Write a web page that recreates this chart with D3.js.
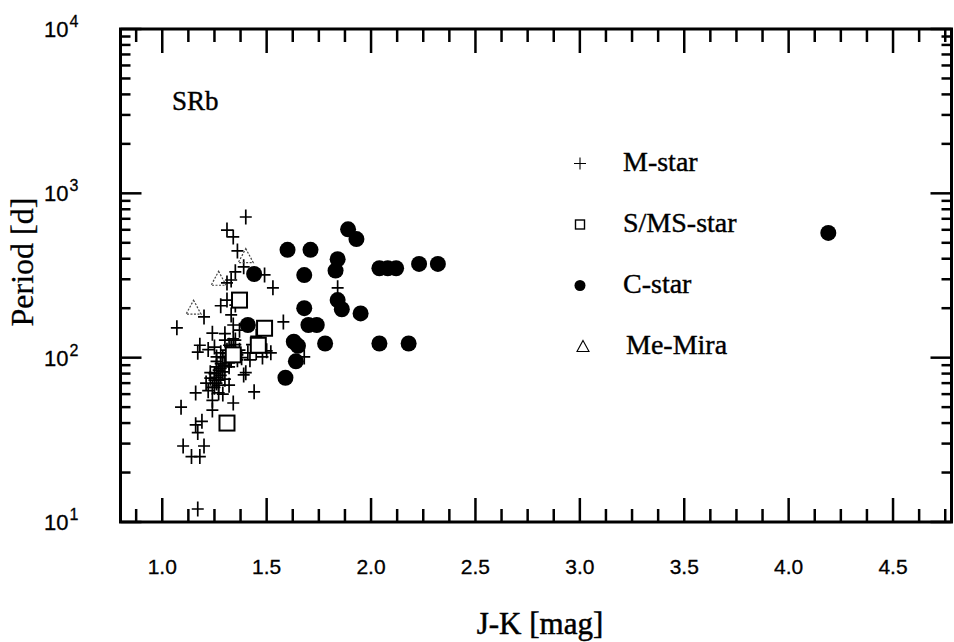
<!DOCTYPE html>
<html>
<head>
<meta charset="utf-8">
<script src="https://cdn.jsdelivr.net/npm/d3@7"></script>
<style>
  body { margin: 0; background: #fff; }
  svg { display: block; }
</style>
</head>
<body>
<div id="plot"></div>
<script>
// J-K colour (mag) and period (days)
const mStarJK = [1.40, 1.31, 1.34, 1.36, 1.39, 1.35, 1.49, 1.53, 1.33, 1.31, 1.31, 1.28, 1.20, 1.07, 1.18, 1.17,
  1.24, 1.25, 1.28, 1.34, 1.35, 1.37, 1.41, 1.45, 1.48, 1.52, 1.32, 1.26, 1.25, 1.24, 1.32, 1.39, 1.44, 1.16,
  1.09, 1.24, 1.27, 1.34, 1.24, 1.19, 1.16, 1.17, 1.20, 1.10, 1.14, 1.18, 1.17, 1.26, 1.23, 1.21, 1.40, 1.84,
  1.68, 1.58, 1.30, 1.32, 1.36, 1.29, 1.27, 1.31, 1.37, 1.42, 1.33, 1.35, 1.50, 1.29, 1.30, 1.28, 1.33, 1.38,
  1.26, 1.30, 1.43, 1.22, 1.45, 1.25, 1.27, 1.29, 1.22, 1.23,
  1.33, 1.34, 1.32, 1.35, 1.33, 1.31, 1.34, 1.28, 1.26, 1.27, 1.25, 1.30, 1.36, 1.32, 1.28, 1.26];
const mStarP = [718, 598, 543, 446, 357, 333, 319, 266, 297, 285, 224, 207, 177, 152, 119, 108,
  141, 116, 107, 158, 128, 111, 107, 107, 101, 107, 93, 88, 73, 66, 68, 78.5, 62, 61,
  50, 55, 61, 53, 48, 41, 39, 35, 29, 29, 25, 25, 12, 101, 81, 70, 81, 266,
  101, 165, 128, 119, 97, 82, 73, 111, 147, 97, 182, 209, 110, 100, 90, 78, 103, 100,
  95, 140, 120, 112, 135, 80, 68, 60, 63, 75,
  115, 108, 102, 120, 96, 106, 130, 86, 76, 84, 66, 74, 104, 88, 92, 70];

const sStarJK = [1.37, 1.49, 1.46, 1.31, 1.34];
const sStarP = [224, 151, 119, 40, 104];

const cStarJK = [1.89, 1.93, 1.60, 1.71, 1.68, 1.84, 1.83, 2.04, 2.08, 2.12, 2.23, 2.32, 1.44, 1.68,
  1.84, 1.86, 1.95, 1.70, 1.74, 1.41, 1.63, 1.65, 1.78, 2.04, 2.18, 1.64, 1.59, 4.19];
const cStarP = [604, 527, 453, 453, 318, 397, 339, 350, 350, 350, 372, 372, 323, 200,
  224, 197, 186, 158, 158, 158, 125, 118, 122, 122, 122, 95, 75.5, 574];

const miraJK = [1.40, 1.27, 1.15];
const miraP = [412, 300, 200];

const xMajorTicks = [1.0, 1.5, 2.0, 2.5, 3.0, 3.5, 4.0, 4.5];
const yDecades = [1, 2, 3, 4];
const legendNames = ['M-star', 'S/MS-star', 'C-star', 'Me-Mira'];

let width = 954, height = 642;
let margin = { top: 29, right: 2.5, bottom: 120, left: 120.5 };

let svg = d3.select('#plot')
  .append('svg')
    .attr('width', width)
    .attr('height', height)
    .style('background', '#FFFFFF');

let xScale = d3.scaleLinear()
  .domain([0.8, 4.78])
  .range([margin.left, width - margin.right]);

let yScale = d3.scaleLog()
  .domain([10, 10000])
  .range([height - margin.bottom, margin.top]);

const x0 = margin.left, x1 = width - margin.right;
const y0 = height - margin.bottom, y1 = margin.top;

// minor and major tick values
let xMinor = d3.range(0.875, 4.78, 0.125).filter(v => Math.abs(v * 2 - Math.round(v * 2)) > 1e-6);
let yMinor = [];
yDecades.slice(0, 3).forEach(e => {
  for (let k = 2; k <= 9; k++) yMinor.push(k * Math.pow(10, e));
});

let ticks = svg.append('g')
  .attr('stroke', '#000')
  .attr('stroke-width', 2.5);

// bottom and top ticks (pointing inward)
xMinor.forEach(v => {
  ticks.append('line').attr('x1', xScale(v)).attr('x2', xScale(v)).attr('y1', y0).attr('y2', y0 - 13);
  ticks.append('line').attr('x1', xScale(v)).attr('x2', xScale(v)).attr('y1', y1).attr('y2', y1 + 13);
});
xMajorTicks.forEach(v => {
  ticks.append('line').attr('x1', xScale(v)).attr('x2', xScale(v)).attr('y1', y0).attr('y2', y0 - 24);
  ticks.append('line').attr('x1', xScale(v)).attr('x2', xScale(v)).attr('y1', y1).attr('y2', y1 + 24);
});

// left and right ticks
yMinor.forEach(v => {
  ticks.append('line').attr('x1', x0).attr('x2', x0 + 10).attr('y1', yScale(v)).attr('y2', yScale(v));
  ticks.append('line').attr('x1', x1).attr('x2', x1 - 10).attr('y1', yScale(v)).attr('y2', yScale(v));
});
yDecades.forEach(e => {
  let v = Math.pow(10, e);
  ticks.append('line').attr('x1', x0).attr('x2', x0 + 21).attr('y1', yScale(v)).attr('y2', yScale(v));
  ticks.append('line').attr('x1', x1).attr('x2', x1 - 21).attr('y1', yScale(v)).attr('y2', yScale(v));
});

// frame
svg.append('rect')
  .attr('x', x0).attr('y', y1)
  .attr('width', x1 - x0).attr('height', y0 - y1)
  .attr('fill', 'none')
  .attr('stroke', '#000')
  .attr('stroke-width', 3);

const sans = 'Liberation Sans, Arial, sans-serif';
const serif = 'Liberation Serif, Times New Roman, serif';

// x tick labels
svg.selectAll('.xlab')
  .data(xMajorTicks)
  .enter()
  .append('text')
    .attr('x', d => xScale(d))
    .attr('y', 574)
    .attr('text-anchor', 'middle')
    .attr('font-family', sans)
    .attr('font-size', '21px')
    .attr('stroke', '#000')
    .attr('stroke-width', 0.3)
    .text(d => d.toFixed(1));

// y tick labels 10^n
yDecades.forEach(e => {
  let t = svg.append('text')
    .attr('x', 44)
    .attr('y', yScale(Math.pow(10, e)) + 8)
    .attr('font-family', sans)
    .attr('font-size', '22px')
    .attr('stroke', '#000')
    .attr('stroke-width', 0.3);
  t.append('tspan').text('10');
  t.append('tspan').attr('dx', 1).attr('dy', -10).attr('font-size', '16px').text(e);
});

// axis titles
svg.append('text')
  .attr('x', 540)
  .attr('y', 634)
  .attr('text-anchor', 'middle')
  .attr('font-family', serif)
  .attr('font-size', '31px')
  .attr('stroke', '#000')
  .attr('stroke-width', 0.5)
  .text('J-K [mag]');

svg.append('text')
  .attr('transform', 'translate(33,262) rotate(-90)')
  .attr('text-anchor', 'middle')
  .attr('font-family', serif)
  .attr('font-size', '32px')
  .attr('stroke', '#000')
  .attr('stroke-width', 0.3)
  .text('Period [d]');

svg.append('text')
  .attr('x', 172)
  .attr('y', 110)
  .attr('font-family', serif)
  .attr('font-size', '27px')
  .attr('stroke', '#000')
  .attr('stroke-width', 0.4)
  .text('SRb');

// data marks
let mData = mStarJK.map((d, i) => ({ jk: d, p: mStarP[i] }));
let sData = sStarJK.map((d, i) => ({ jk: d, p: sStarP[i] }));
let cData = cStarJK.map((d, i) => ({ jk: d, p: cStarP[i] }));
let eData = miraJK.map((d, i) => ({ jk: d, p: miraP[i] }));

function crossPath(x, y, w, h) {
  return `M${x - w},${y}H${x + w}M${x},${y - h}V${y + h}`;
}

svg.append('g')
  .selectAll('path')
  .data(mData)
  .enter()
  .append('path')
    .attr('d', d => crossPath(xScale(d.jk), yScale(d.p), 6, 7.5))
    .attr('stroke', '#000')
    .attr('stroke-width', 1.7)
    .attr('fill', 'none');

svg.append('g')
  .selectAll('path')
  .data(eData)
  .enter()
  .append('path')
    .attr('transform', d => `translate(${xScale(d.jk)},${yScale(d.p)})`)
    .attr('d', 'M0,-8L7.5,6L-7.5,6Z')
    .attr('fill', 'none')
    .attr('stroke', '#444')
    .attr('stroke-width', 1.2)
    .attr('stroke-dasharray', '2,1.5');

svg.append('g')
  .selectAll('rect')
  .data(sData)
  .enter()
  .append('rect')
    .attr('x', d => xScale(d.jk) - 7.5)
    .attr('y', d => yScale(d.p) - 7.5)
    .attr('width', 15)
    .attr('height', 15)
    .attr('fill', '#fff')
    .attr('stroke', '#000')
    .attr('stroke-width', 2);

svg.append('g')
  .selectAll('circle')
  .data(cData)
  .enter()
  .append('circle')
    .attr('cx', d => xScale(d.jk))
    .attr('cy', d => yScale(d.p))
    .attr('r', 8)
    .attr('fill', '#000');

// legend
let legend = svg.append('g');
let legendY = d3.scaleBand().domain(legendNames).range([140, 384]);
let symX = 580;

legendNames.forEach((name, i) => {
  let cy = legendY(name) + legendY.bandwidth() / 2 - 7;
  if (i === 0) {
    legend.append('path').attr('d', crossPath(symX, cy, 6, 6)).attr('stroke', '#000').attr('stroke-width', 1.1);
  } else if (i === 1) {
    legend.append('rect').attr('x', symX - 4.5).attr('y', cy - 4.5).attr('width', 9).attr('height', 9)
      .attr('fill', '#fff').attr('stroke', '#000').attr('stroke-width', 1.4);
  } else if (i === 2) {
    legend.append('circle').attr('cx', symX).attr('cy', cy).attr('r', 5.5).attr('fill', '#000');
  } else {
    legend.append('path').attr('transform', `translate(${symX + 3},${cy})`)
      .attr('d', 'M0,-6L6,5L-6,5Z').attr('fill', 'none').attr('stroke', '#000').attr('stroke-width', 1.1);
  }
  legend.append('text')
    .attr('x', i === 3 ? 626 : 623)
    .attr('y', cy + 7)
    .attr('font-family', serif)
    .attr('font-size', '28px')
    .attr('stroke', '#000')
    .attr('stroke-width', 0.4)
    .text(name);
});
</script>
</body>
</html>
